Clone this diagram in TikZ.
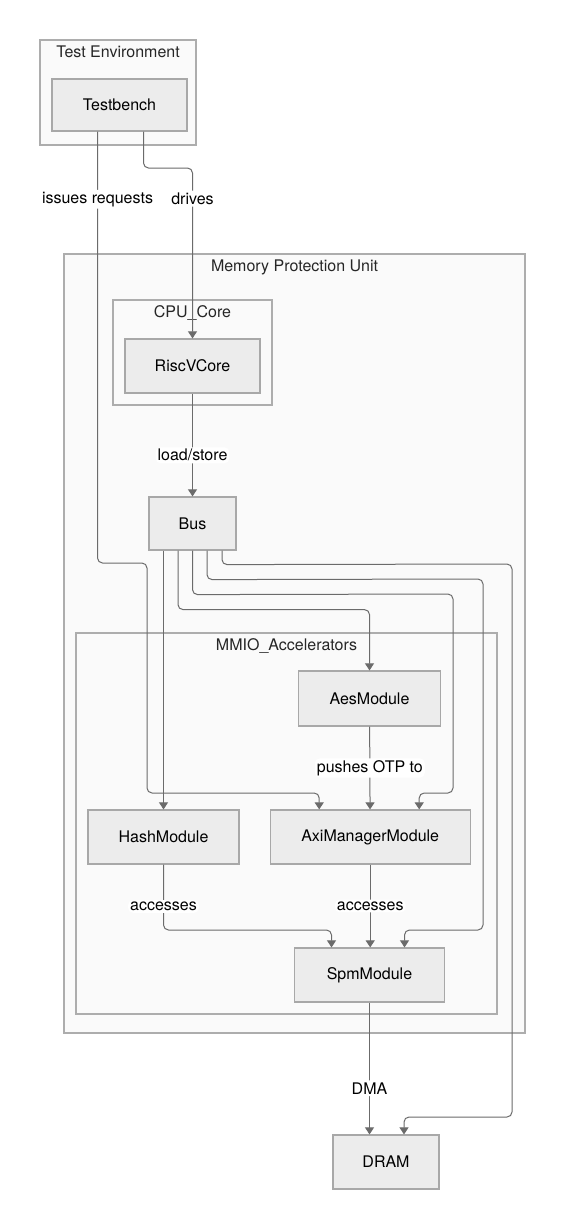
\documentclass[tikz,border=0pt]{standalone}
\usepackage{fontspec}
\setmainfont{TeX Gyre Heros}
\usepackage{xcolor}
\usetikzlibrary{arrows.meta,positioning,calc}
\definecolor{nodefill}{HTML}{ECECEC}
\definecolor{nodeline}{HTML}{A8A8A8}
\definecolor{clusterfill}{HTML}{FAFAFA}
\definecolor{clusterline}{HTML}{ADADAD}
\definecolor{edgeline}{HTML}{6B6B6B}

\begin{document}
\begin{tikzpicture}[
    x=1pt, y=-1pt,
    font=\fontsize{16}{19}\selectfont,
    box/.style={rectangle, draw=nodeline, line width=1.2pt, fill=nodefill, inner sep=0pt, minimum height=54pt, align=center},
    cluster/.style={rectangle, draw=clusterline, line width=1.2pt, fill=clusterfill, inner sep=0pt},
    title/.style={anchor=base, inner sep=0pt, text=black!85},
    lbl/.style={fill=white, inner sep=2pt},
    arrow/.style={-{Triangle[length=7pt,width=9pt]}, draw=edgeline, line width=1pt, rounded corners=5pt}
]

\fill[white] (0,0) rectangle (565,1229);
\useasboundingbox (0,0) rectangle (565,1229);

\node[cluster, minimum width=156pt, minimum height=105pt] (testenv) at (118,92.5) {};
\node[title] at ([yshift=-18pt]testenv.north) {Test Environment};
\node[cluster, minimum width=461pt, minimum height=779pt] (mpu) at (294.5,643.5) {};
\node[title] at ([yshift=-18pt]mpu.north) {Memory Protection Unit};
\node[cluster, minimum width=159pt, minimum height=105pt] (cpucore) at (192.5,352.5) {};
\node[title] at ([yshift=-18pt]cpucore.north) {CPU\_Core};
\node[cluster, minimum width=421pt, minimum height=381pt] (mmio) at (286.5,823.5) {};
\node[title] at ([yshift=-18pt]mmio.north) {MMIO\_Accelerators};

\node[box, minimum width=135pt, minimum height=52pt] (testbench) at (119.5,105) {Testbench};
\node[box, minimum width=135pt] (riscv) at (192.5,366) {RiscVCore};
\node[box, minimum width=87pt, minimum height=53pt] (bus) at (192.5,523.5) {Bus};
\node[box, minimum width=142pt, minimum height=55pt] (aes) at (369.5,698.5) {AesModule};
\node[box, minimum width=151pt] (hash) at (163.5,837) {HashModule};
\node[box, minimum width=200pt, right=30pt of hash] (axi) {AxiManagerModule};
\node[box, minimum width=150pt] (spm) at (369.5,975) {SpmModule};
\node[box, minimum width=106pt] (dram) at (386,1162) {DRAM};

\draw[arrow] ([xshift=-22pt]testbench.south) -- node[lbl, pos=0.157] {issues requests} (97.5,563) -- (147,563) -- (147,793) -| ([xshift=-51pt]axi.north);
\draw[arrow] ([xshift=24pt]testbench.south) -- (143.5,168) -- (192.5,168) -- node[lbl, pos=0.18] {drives} (riscv.north);
\draw[arrow] (riscv) -- node[lbl, pos=0.6] {load/store} (bus);
\draw[arrow] (bus.south -| hash.north) -- (hash.north);
\draw[arrow] ([xshift=-14.5pt]bus.south) -- ++(0,59) -| (aes.north);
\draw[arrow] (bus.south) -- ++(0,44) -- (453,594) -- (453,793) -| ([xshift=49pt]axi.north);
\draw[arrow] ([xshift=14.5pt]bus.south) -- ++(0,29) -- (483,579) -- (483,930) -| ([xshift=35pt]spm.north);
\draw[arrow] ([xshift=29.5pt]bus.south) -- ++(0,14) -- (512,564) -- (512,1117) -| ([xshift=18pt]dram.north);
\draw[arrow] (aes) -- node[lbl] {pushes OTP to} (axi);
\draw[arrow] (hash.south) -- node[lbl, pos=0.64] {accesses} (163.5,930) -| ([xshift=-38pt]spm.north);
\draw[arrow] (axi.south) -- node[lbl] {accesses} (axi.south |- spm.north);
\draw[arrow] (spm.south) -- node[lbl, pos=0.65] {DMA} (spm.south |- dram.north);

\end{tikzpicture}
\end{document}
